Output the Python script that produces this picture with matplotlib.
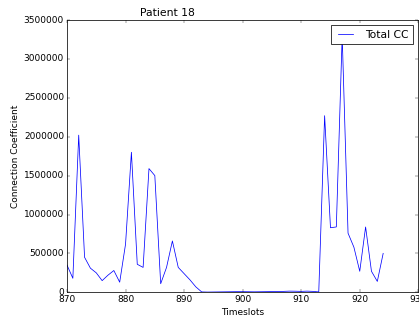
import numpy as np
import matplotlib
matplotlib.use('Agg')
import matplotlib.pyplot as plt

plt.style.use('classic')

timeslots = np.arange(870, 925)
total_cc = [350000, 180000, 2020000, 450000, 310000, 250000, 150000, 220000, 280000, 130000,
            620000, 1800000, 360000, 320000, 1590000, 1500000, 110000, 320000, 660000, 320000,
            240000, 160000, 70000, 5000, 3000, 4000, 5000, 6000, 7000, 8000,
            8000, 7000, 6000, 7000, 8000, 9000, 10000, 12000, 15000, 14000,
            12000, 15000, 12000, 5000, 2270000, 830000, 840000, 3300000, 760000, 580000,
            270000, 840000, 270000, 140000, 500000]

dpi = 54
fig = plt.figure(figsize=(419 / dpi, 322 / dpi), dpi=dpi)
ax = fig.add_axes([67 / 419, 1 - 292.3 / 322, (418.3 - 67) / 419, (292.3 - 20) / 322])

ax.plot(timeslots, total_cc, color='b', label='Total CC')
ax.set_xlim(870, 930)
ax.set_ylim(0, 3500000)
ax.set_xticks(np.arange(870, 931, 10))
ax.set_yticks(np.arange(0, 3500001, 500000))
ax.ticklabel_format(style='plain', useOffset=False)

ax.set_xlabel('Timeslots')
ax.set_ylabel('Connection Coefficient')
ax.set_title('Patient 18', x=0.285)
ax.legend(loc='upper right')

fig.savefig('out.png', dpi=dpi)
